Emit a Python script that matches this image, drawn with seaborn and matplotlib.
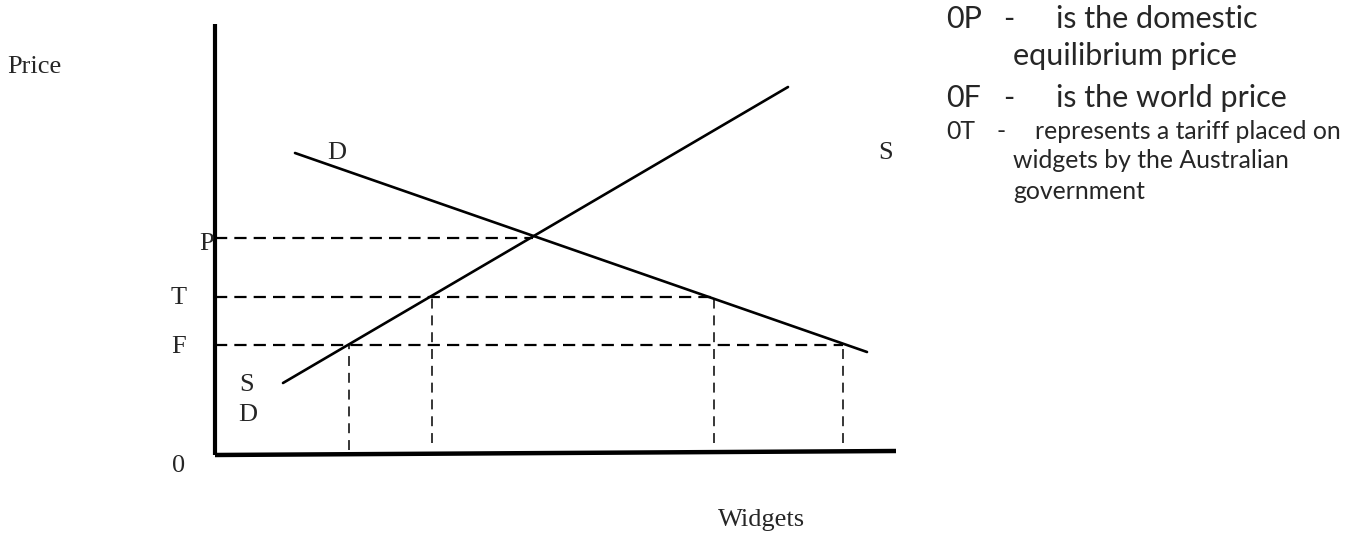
import matplotlib
matplotlib.use("Agg")
import matplotlib.pyplot as plt
import seaborn as sns

# supply and demand curves (quantity, price), 1 unit = 10 px
supply_q = [6.8, 57.3]
supply_p = [7.2, 36.8]
demand_q = [8.0, 65.2]
demand_p = [30.2, 10.3]

# price levels and the quantities they meet the curves at
price_names = ["P", "T", "F"]
price_levels = [21.7, 15.8, 11.0]
price_ends = [31.8, 49.9, 62.8]
drop_q = [13.4, 21.7, 49.9, 62.8]
drop_top = [11.0, 15.8, 15.8, 11.0]
drop_bottom = [0.5, 1.2, 1.2, 1.2]

# axes extent
y_axis_top = 43.1
x_axis_end = [68.1, 0.4]

notes = [
    ("0P", "-", "is the domestic", "equilibrium price"),
    ("0F", "-", "is the world price", None),
]
small_note = ("0T", "-", "represents a tariff placed on", "widgets by the Australian", "government")

sns.set_style("white")
plt.rcParams["font.family"] = ["Liberation Serif", "DejaVu Serif"]

fig = plt.figure(figsize=(13.59, 5.35), dpi=100)
ax = fig.add_axes([0, 0, 1, 1])
ax.set_xlim(-21.5, 114.4)
ax.set_ylim(-8.0, 45.5)
ax.axis("off")

# axes drawn as thick lines
ax.plot([0, 0], [0, y_axis_top], color="black", lw=3, solid_capstyle="butt")
ax.plot([0, x_axis_end[0]], [0, x_axis_end[1]], color="black", lw=3.2, solid_capstyle="butt")

sns.lineplot(x=supply_q, y=supply_p, ax=ax, color="black", lw=1.9, sort=False)
sns.lineplot(x=demand_q, y=demand_p, ax=ax, color="black", lw=1.9, sort=False)

for level, end in zip(price_levels, price_ends):
    ax.plot([0, end], [level, level], color="black", lw=1.6, linestyle=(0, (5.5, 3.2)))

for q, top, bottom in zip(drop_q, drop_top, drop_bottom):
    ax.plot([q, q], [bottom, top], color="black", lw=1.1, linestyle=(0, (6.5, 4.5)))

fs = 19
ax.text(-20.8, 38.8, "Price", fontsize=fs, ha="left", va="center")
ax.text(12.2, 30.2, "D", fontsize=fs, ha="center", va="center")
ax.text(67.1, 30.2, "S", fontsize=fs, ha="center", va="center")
ax.text(-0.8, 21.1, "P", fontsize=fs, ha="center", va="center")
ax.text(-3.6, 15.7, "T", fontsize=fs, ha="center", va="center")
ax.text(-3.6, 10.8, "F", fontsize=fs, ha="center", va="center")
ax.text(3.2, 7.0, "S", fontsize=fs, ha="center", va="center")
ax.text(3.3, 4.0, "D", fontsize=fs, ha="center", va="center")
ax.text(-3.6, -1.1, "0", fontsize=fs, ha="center", va="center")
ax.text(54.7, -6.5, "Widgets", fontsize=fs, ha="center", va="center")

# notes on the right, in a sans face
sans = ["Lato", "DejaVu Sans"]
big = 22
note_y = [42.7, 34.8]
for (code, dash, text, cont), y in zip(notes, note_y):
    ax.text(73.1, y, code, fontsize=big, family=sans, ha="left", va="baseline")
    ax.text(78.8, y, dash, fontsize=big, family=sans, ha="left", va="baseline")
    ax.text(84.1, y, text, fontsize=big, family=sans, ha="left", va="baseline")
    if cont:
        ax.text(79.8, y - 3.7, cont, fontsize=big, family=sans, ha="left", va="baseline")

small = 17.8
code, dash, first, second, third = small_note
ax.text(73.1, 31.6, code, fontsize=small, family=sans, ha="left", va="baseline")
ax.text(78.1, 31.6, dash, fontsize=small, family=sans, ha="left", va="baseline")
ax.text(82.0, 31.6, first, fontsize=small, family=sans, ha="left", va="baseline")
ax.text(79.8, 28.7, second, fontsize=small, family=sans, ha="left", va="baseline")
ax.text(79.8, 25.6, third, fontsize=small, family=sans, ha="left", va="baseline")

fig.savefig("out.png", dpi=100)
